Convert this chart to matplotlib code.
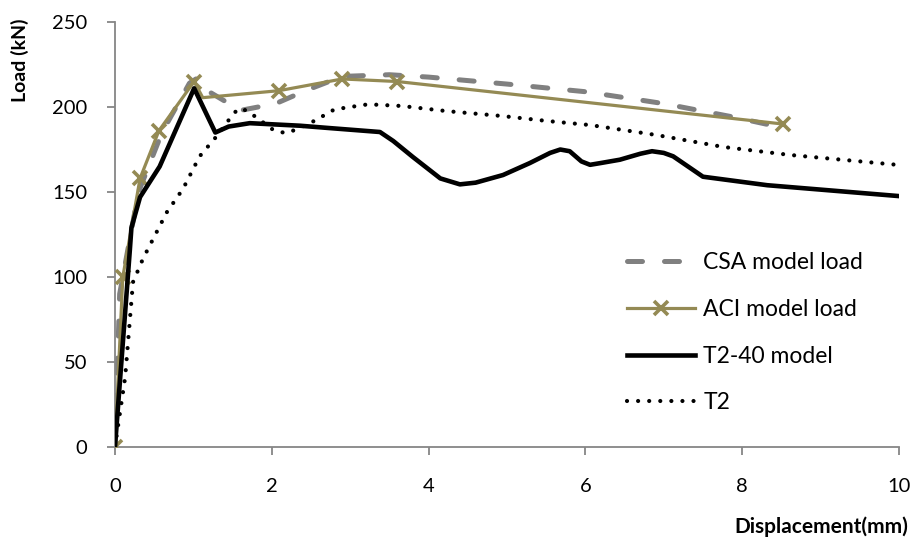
import matplotlib
matplotlib.use("Agg")
import matplotlib.pyplot as plt

plt.rcParams['font.family'] = ['Lato', 'DejaVu Sans']

# CSA model load
csa_x = [0, 0.06, 0.3, 0.6, 0.95, 1.05, 1.2, 1.6, 2.05, 2.45, 2.9, 3.5, 4.0, 5.0, 6.0, 7.0, 7.9, 8.5]
csa_y = [0, 90, 150, 185, 214, 217, 209, 198, 202, 210, 218, 219, 217.6, 213.5, 209, 202, 194, 188]

# ACI model load
aci_x = [0, 0.1, 0.32, 0.56, 1.01, 1.12, 2.09, 2.9, 3.6, 8.52]
aci_y = [0, 100, 158, 186, 215, 205.5, 209.6, 216.5, 215, 190]
aci_marks = [0, 1, 2, 3, 4, 6, 7, 8, 9]

# T2-40 model
t240_x = [0, 0.19, 0.21, 0.32, 0.57, 1.01, 1.28, 1.45, 1.72, 2.36, 2.74, 3.38, 3.55, 3.8, 4.15, 4.4, 4.6, 4.95,
          5.29, 5.55, 5.68, 5.8, 5.95, 6.06, 6.19, 6.44, 6.7, 6.85, 7.0, 7.12, 7.5, 8.32, 10.0]
t240_y = [0, 116, 129, 147, 165, 211, 185, 188.5, 190.5, 189, 187.6, 185.3, 180, 170.6, 158, 154.5, 155.5, 160,
          167, 173, 175, 174, 168, 166, 167, 169, 172.5, 174, 173, 171, 159, 154, 147.6]

# T2
t2_x = [0, 0.13, 0.23, 0.36, 0.66, 0.87, 1.08, 1.31, 1.47, 1.57, 1.68, 1.8, 2.02, 2.17, 2.3,
        2.55, 2.8, 3.23, 3.66, 4.23, 4.94, 5.51, 6.06, 6.48, 6.91, 7.76, 8.61, 10.0]
t2_y = [0, 41, 97, 111, 138, 152, 171, 183.5, 193.5, 199, 198, 194, 186.5, 184.7, 186.5,
        192, 198.6, 201.6, 200.6, 197.6, 194.7, 191.8, 189.4, 186.5, 183.5, 176.5, 171.8, 165.9]

xticks = [0, 2, 4, 6, 8, 10]
yticks = [0, 50, 100, 150, 200, 250]

fig = plt.figure(figsize=(9.16, 5.45), dpi=100)
ax = fig.add_axes([0.1255, 0.1798, 0.8559, 0.7798])

grey = '#868686'
olive = '#948A54'

ax.plot(csa_x, csa_y, color='#808080', lw=3.6, dashes=(3, 4.4), dash_capstyle='round',
        label='CSA model load', zorder=2)
ax.plot(aci_x, aci_y, color=olive, lw=2.3, marker='x', markersize=10, mew=2.6,
        markevery=aci_marks, label='ACI model load', zorder=3)
ax.plot(t240_x, t240_y, color='black', lw=3.3, solid_joinstyle='round',
        label='T2-40 model', zorder=4)
ax.plot(t2_x, t2_y, color='black', lw=3.0, dashes=(0.01, 2.65), dash_capstyle='round',
        label='T2', zorder=4)

ax.set_xlim(0, 10)
ax.set_ylim(0, 250)
ax.set_xticks(xticks)
ax.set_yticks(yticks)
ax.set_xticklabels([str(v) for v in xticks])
ax.set_yticklabels([str(v) for v in yticks])

for s in ['top', 'right']:
    ax.spines[s].set_visible(False)
for s in ['left', 'bottom']:
    ax.spines[s].set_color(grey)
    ax.spines[s].set_linewidth(1.3)
ax.tick_params(axis='both', direction='out', color=grey, length=6, width=1.3,
               labelsize=14.5, labelcolor='black')
ax.tick_params(axis='y', pad=14)
ax.tick_params(axis='x', pad=16)

fig.text(0.022, 0.89, 'Load (kN)', rotation=90, fontsize=14, fontweight='bold',
         ha='center', va='center')
fig.text(0.991, 0.033, 'Displacement(mm)', fontsize=15, fontweight='bold',
         ha='right', va='center')

leg = ax.legend(loc='upper left', bbox_to_anchor=(0.684, 0.537), bbox_transform=fig.transFigure,
                frameon=False, fontsize=16.5, handlelength=3.0, handletextpad=0.35,
                labelspacing=1.12, borderaxespad=0, borderpad=0)

fig.savefig('out.png', dpi=100)
